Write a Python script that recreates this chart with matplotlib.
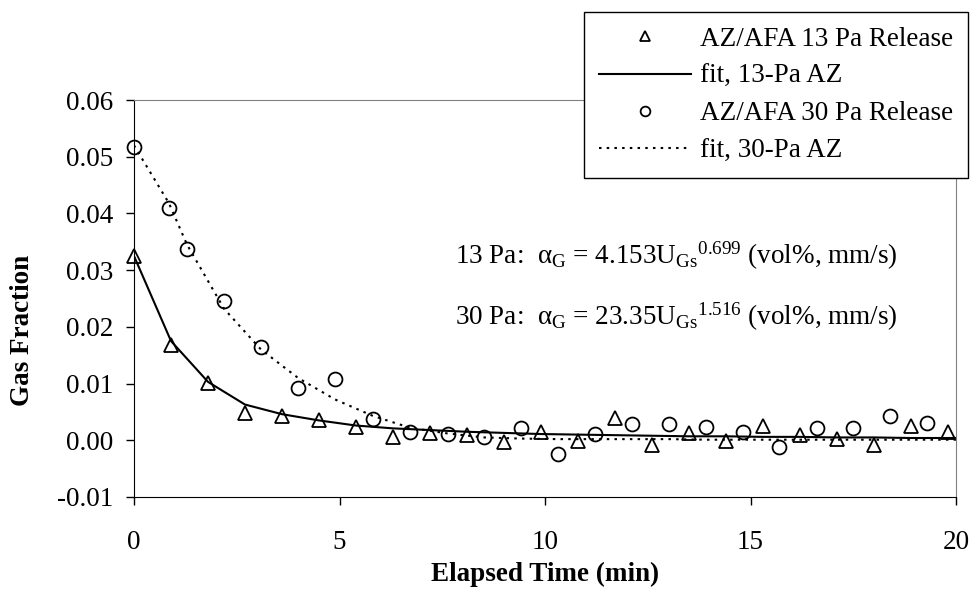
import matplotlib.pyplot as plt

plt.rcParams["font.family"] = ["Liberation Serif", "DejaVu Serif"]
plt.rcParams["mathtext.fontset"] = "custom"
plt.rcParams["mathtext.rm"] = "Liberation Serif"
plt.rcParams["mathtext.it"] = "Liberation Serif:italic"

# 13 Pa release (triangles)
t13 = [0.0, 0.9, 1.8, 2.7, 3.6, 4.5, 5.4, 6.3, 7.2, 8.1, 9.0, 9.9, 10.8, 11.7,
       12.6, 13.5, 14.4, 15.3, 16.2, 17.1, 18.0, 18.9, 19.8]
g13 = [0.0325, 0.0168, 0.0101, 0.0048, 0.0042, 0.0036, 0.0023, 0.0006, 0.0013,
       0.0010, -0.0003, 0.0015, -0.0001, 0.0040, -0.0008, 0.0012, -0.0001,
       0.0026, 0.0009, 0.0002, -0.0008, 0.0026, 0.0015]

# 30 Pa release (circles)
t30 = [0.0, 0.85, 1.29, 2.19, 3.09, 3.99, 4.89, 5.81, 6.72, 7.63, 8.52, 9.42,
       10.32, 11.22, 12.11, 13.02, 13.92, 14.81, 15.70, 16.61, 17.50, 18.39, 19.28]
g30 = [0.0518, 0.0410, 0.0338, 0.0245, 0.0165, 0.0093, 0.0108, 0.0037, 0.0015,
       0.0011, 0.0006, 0.0021, -0.0024, 0.0011, 0.0029, 0.0029, 0.0023, 0.0015,
       -0.0011, 0.0021, 0.0021, 0.0042, 0.0031]

# fit curves
fit13_t = t13 + [20.0]
fit13_g = [0.0325, 0.0175, 0.0103, 0.0063, 0.0046, 0.0035, 0.0026, 0.0021, 0.0018,
           0.0015, 0.0013, 0.0011, 0.0010, 0.0009, 0.0008, 0.0007, 0.0007, 0.0006,
           0.0006, 0.0005, 0.0005, 0.0004, 0.0004, 0.0004]
fit30_t = t30 + [20.0]
fit30_g = [0.0520, 0.0418, 0.0345, 0.0232, 0.0160, 0.0110, 0.0072, 0.0043, 0.0022,
           0.0012, 0.0005, 0.0003, 0.0002, 0.0002, 0.0002, 0.0002, 0.0001, 0.0001,
           0.0001, 0.0001, 0.0001, 0.0001, 0.0001, 0.0001]

FS = 19.5

fig = plt.figure(figsize=(9.71, 6.0), dpi=100)
ax = fig.add_axes([0.138, 0.1717, 0.8467, 0.6616])

l1, = ax.plot(t13, g13, linestyle="none", marker="^", markersize=10,
              markerfacecolor="none", markeredgecolor="black", markeredgewidth=1.3,
              clip_on=False, label="AZ/AFA 13 Pa Release")
l2, = ax.plot(fit13_t, fit13_g, color="black", linewidth=1.5, label="fit, 13-Pa AZ")
l3, = ax.plot(t30, g30, linestyle="none", marker="o", markersize=10,
              markerfacecolor="none", markeredgecolor="black", markeredgewidth=1.3,
              clip_on=False, label="AZ/AFA 30 Pa Release")
l4, = ax.plot(fit30_t, fit30_g, color="black", linewidth=1.5, linestyle=(0, (1.2, 2.5)),
              label="fit, 30-Pa AZ")

ax.set_xlim(0, 20)
ax.set_ylim(-0.01, 0.06)
ax.set_xticks([0, 5, 10, 15, 20])
ax.set_yticks([-0.01, 0.0, 0.01, 0.02, 0.03, 0.04, 0.05, 0.06])
ax.set_yticklabels(["-0.01", "0.00", "0.01", "0.02", "0.03", "0.04", "0.05", "0.06"])
ax.tick_params(axis="both", direction="out", length=6, width=1, labelsize=FS)
ax.tick_params(axis="x", pad=18)
ax.tick_params(axis="y", pad=9)
for side in ["top", "right"]:
    ax.spines[side].set_color("#808080")
for side in ["left", "bottom"]:
    ax.spines[side].set_color("black")

fig.text(0.5613, 0.042, "Elapsed Time (min)", ha="center", va="center",
         fontsize=FS, fontweight="bold")
fig.text(0.023, 0.45, "Gas Fraction", rotation=90, ha="center", va="center",
         fontsize=FS, fontweight="bold")

ax.text(0.3905, 0.587,
        r"13 Pa:  α$_\mathrm{G}$ = 4.153U$_\mathrm{Gs}{}^\mathrm{0.699}$ (vol%, mm/s)",
        transform=ax.transAxes, fontsize=FS, ha="left", va="baseline")
ax.text(0.3905, 0.433,
        r"30 Pa:  α$_\mathrm{G}$ = 23.35U$_\mathrm{Gs}{}^\mathrm{1.516}$ (vol%, mm/s)",
        transform=ax.transAxes, fontsize=FS, ha="left", va="baseline")

leg = fig.legend(handles=[l1, l2, l3, l4], loc="upper right",
                 bbox_to_anchor=(0.997, 0.98), borderaxespad=0, fontsize=FS,
                 markerscale=0.7, handlelength=3.4, handletextpad=0.35,
                 labelspacing=0.45, borderpad=0.55, fancybox=False, framealpha=1.0)
leg.get_frame().set_edgecolor("black")
leg.get_frame().set_linewidth(1.0)

fig.savefig("out.png", dpi=100)
